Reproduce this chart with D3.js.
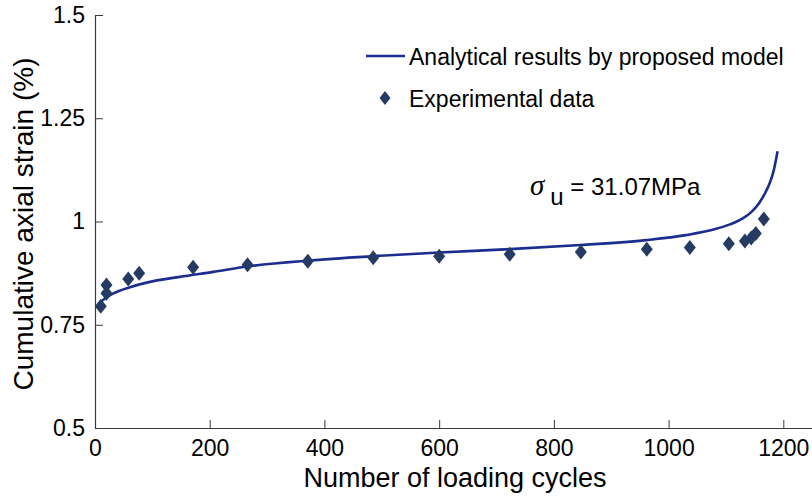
<!DOCTYPE html>
<html>
<head>
<meta charset="utf-8">
<script src="https://cdn.jsdelivr.net/npm/d3@7"></script>
<style>
  html, body { margin: 0; padding: 0; background: #fff; }
  svg { display: block; font-family: "Liberation Sans", Arial, Helvetica, sans-serif; }
</style>
</head>
<body>
<svg id="chart" width="812" height="496"></svg>
<script>
// Measured cumulative axial strain (%) vs loading cycles
const expCycles = [10, 20, 20, 58, 77, 171, 266, 371, 485, 600, 723, 847, 962, 1037, 1105, 1133, 1144, 1152, 1166];
const expStrain = [0.795, 0.846, 0.826, 0.861, 0.875, 0.889, 0.895, 0.904, 0.912, 0.916, 0.921, 0.926, 0.933, 0.937, 0.946, 0.953, 0.960, 0.971, 1.006];

// Analytical curve from the proposed model
const modelCycles = [11, 32, 61, 90, 148, 206, 265, 380, 497, 600, 723, 847, 961, 1030, 1080, 1107, 1130, 1145, 1158, 1168, 1176, 1183, 1190];
const modelStrain = [0.807, 0.826, 0.841, 0.852, 0.866, 0.878, 0.891, 0.906, 0.917, 0.925, 0.933, 0.943, 0.955, 0.967, 0.981, 0.993, 1.008, 1.024, 1.045, 1.068, 1.092, 1.122, 1.170];

const xTicks = [0, 200, 400, 600, 800, 1000, 1200];
const xTickLabels = ["0", "200", "400", "600", "800", "1000", "1200"];
const yTicks = [0.5, 0.75, 1, 1.25, 1.5];
const yTickLabels = ["0.5", "0.75", "1", "1.25", "1.5"];

const legendLabels = ["Analytical results by proposed model", "Experimental data"];
const xTitle = "Number of loading cycles";
const yTitle = "Cumulative axial strain (%)";

const svg = d3.select("#chart");
const x = d3.scaleLinear().domain([0, 1250]).range([95, 812]);
const y = d3.scaleLinear().domain([0.5, 1.5]).range([428, 15]);

const axisColor = "#3a3a3a";

// x axis, ticks pointing into the plot
const gx = svg.append("g").attr("transform", `translate(0,${y(0.5)})`)
  .call(d3.axisBottom(x).tickValues(xTicks).tickFormat((d, i) => xTickLabels[i])
    .tickSizeInner(-8).tickSizeOuter(0).tickPadding(12));
gx.select(".domain").attr("stroke", axisColor).attr("stroke-width", 1.2);
gx.selectAll(".tick line").attr("stroke", axisColor);
gx.selectAll(".tick text").attr("fill", "#000").attr("font-size", 23)
  .attr("font-family", "Liberation Sans, Arial, sans-serif");

// y axis, ticks pointing into the plot
const gy = svg.append("g").attr("transform", `translate(${x(0)},0)`)
  .call(d3.axisLeft(y).tickValues(yTicks).tickFormat((d, i) => yTickLabels[i])
    .tickSizeInner(-8).tickSizeOuter(-8).tickPadding(10));
gy.select(".domain").attr("stroke", axisColor).attr("stroke-width", 1.2);
gy.selectAll(".tick line").attr("stroke", axisColor);
gy.selectAll(".tick text").attr("fill", "#000").attr("font-size", 23)
  .attr("font-family", "Liberation Sans, Arial, sans-serif");

// axis titles
svg.append("text").attr("x", 455).attr("y", 487).attr("text-anchor", "middle")
  .attr("font-size", 27).attr("fill", "#000").text(xTitle);
svg.append("text").attr("transform", `translate(33,224) rotate(-90)`)
  .attr("text-anchor", "middle").attr("font-size", 28).attr("fill", "#000").text(yTitle);

// model curve
const lineColor = "#1b2d8f";
const markColor = "#263b63";
const modelPts = modelCycles.map((c, i) => [c, modelStrain[i]]);
svg.append("path").datum(modelPts)
  .attr("fill", "none").attr("stroke", lineColor).attr("stroke-width", 2.6)
  .attr("d", d3.line().x(d => x(d[0])).y(d => y(d[1])).curve(d3.curveMonotoneX));

// experimental points as diamonds
const diamond = (cx, cy, hw, hh) => `M${cx},${cy - hh}L${cx + hw},${cy}L${cx},${cy + hh}L${cx - hw},${cy}Z`;
svg.append("g").selectAll("path").data(expCycles.map((c, i) => [c, expStrain[i]]))
  .join("path")
  .attr("d", d => diamond(x(d[0]), y(d[1]), 6, 7.5))
  .attr("fill", markColor);

// legend
svg.append("line").attr("x1", 366).attr("x2", 405).attr("y1", 56).attr("y2", 56)
  .attr("stroke", lineColor).attr("stroke-width", 2.6);
svg.append("text").attr("x", 409).attr("y", 65).attr("font-size", 23).attr("fill", "#000").text(legendLabels[0]);
svg.append("path").attr("d", diamond(385, 98, 5.5, 7)).attr("fill", markColor);
svg.append("text").attr("x", 409).attr("y", 107).attr("font-size", 23).attr("fill", "#000").text(legendLabels[1]);

// stress annotation
const ann = svg.append("text").attr("x", 530).attr("y", 195).attr("font-size", 24).attr("fill", "#000");
ann.append("tspan").attr("font-style", "italic").attr("font-size", 29)
  .attr("font-family", "Liberation Serif, Times New Roman, serif").text("σ");
ann.append("tspan").attr("dy", 10).attr("dx", 6).text("u");
ann.append("tspan").attr("dy", -10).attr("dx", 0).text(" = 31.07MPa");
</script>
</body>
</html>
